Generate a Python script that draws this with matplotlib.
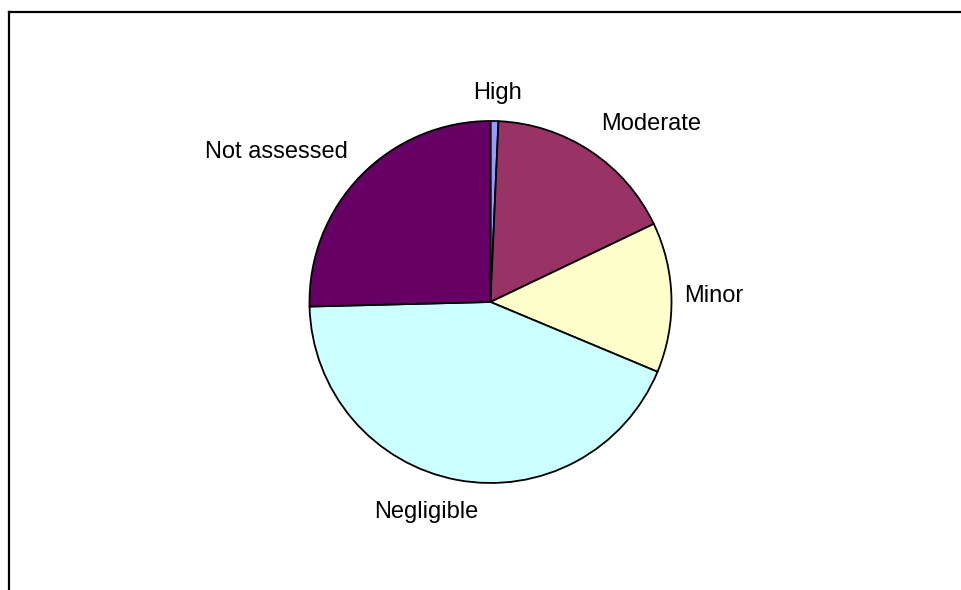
import numpy as np
import matplotlib
matplotlib.use("Agg")
import matplotlib.pyplot as plt
from matplotlib.lines import Line2D

# ===== data =====
labels = ["High", "Moderate", "Minor", "Negligible", "Not assessed"]
shares = [0.7, 17.2, 13.4, 43.3, 25.4]
colors = ["#9999FF", "#993366", "#FFFFCC", "#CCFFFF", "#660066"]

plt.rcParams["font.family"] = ["Liberation Sans", "DejaVu Sans"]

W, H = 961, 590
fig = plt.figure(figsize=(W / 100, H / 100), dpi=100)

# pie centre / radius in pixels
cx, cy, rad = 490.5, 302, 181
ax = fig.add_axes([(cx - rad) / W, (H - cy - rad) / H, 2 * rad / W, 2 * rad / H])

wedges, _ = ax.pie(
    shares,
    colors=colors,
    startangle=90,
    counterclock=False,
    radius=1,
    wedgeprops=dict(edgecolor="black", linewidth=1.3),
)
# pie() resets limits, so fix them afterwards
ax.set_xlim(-1, 1)
ax.set_ylim(-1, 1)
ax.axis("off")

# small hand nudges (px, x right / y up) so labels sit where Excel put them
nudge_px = [(2, 3), (25, 6), (-2, 1), (-19, -7), (-23, 6)]

# labels outside, text box pushed away from the rim (Excel style)
fig.canvas.draw()
renderer = fig.canvas.get_renderer()
for w, lab, (nx, ny) in zip(wedges, labels, nudge_px):
    ang = np.deg2rad((w.theta1 + w.theta2) / 2)
    ux, uy = np.cos(ang), np.sin(ang)
    t = ax.text(0, 0, lab, fontsize=17, ha="center", va="center")
    bb = t.get_window_extent(renderer)
    # half-size in data units (1 data unit = rad px)
    hw, hh = bb.width / 2 / rad, bb.height / 2 / rad
    d = 1.08
    t.set_position((d * ux + hw * ux + nx / rad, d * uy + hh * uy + ny / rad))
    t.set_clip_on(False)

# chart frame (only top and left edges fall inside the picture)
fig.add_artist(Line2D([9 / W, 1.0], [1 - 12 / H, 1 - 12 / H], color="black", linewidth=1.6))
fig.add_artist(Line2D([9 / W, 9 / W], [0.0, 1 - 12 / H], color="black", linewidth=1.6))

fig.savefig("out.png", dpi=100)
